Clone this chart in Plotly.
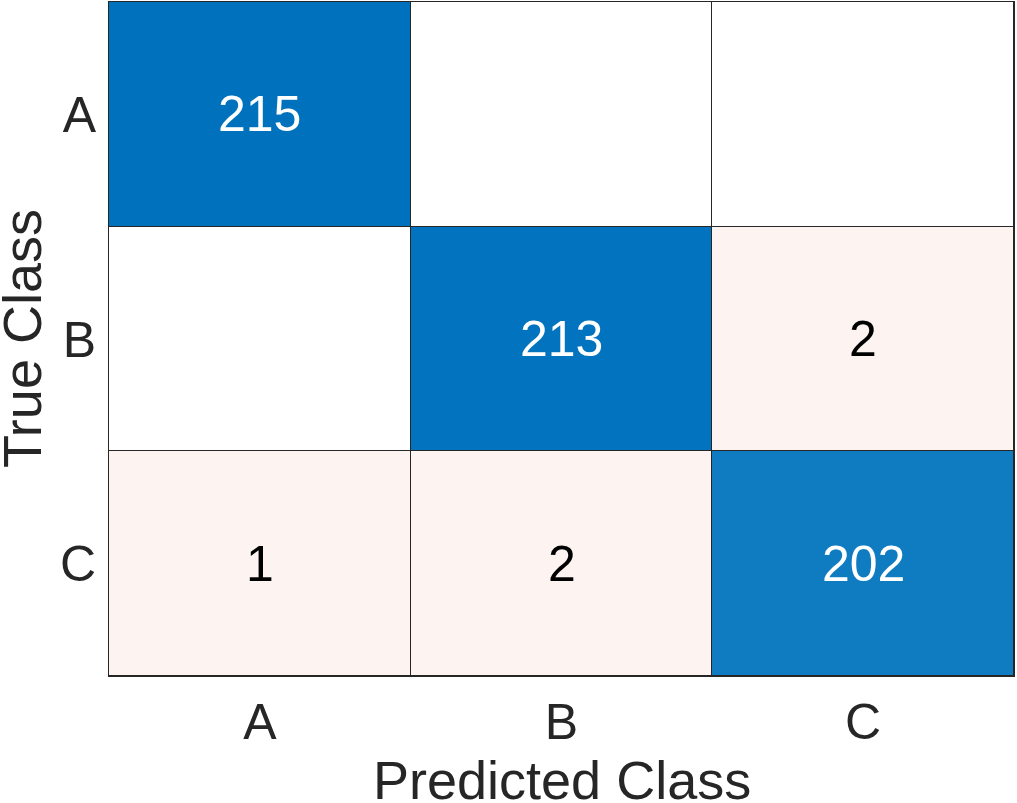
import plotly.graph_objects as go

# confusion matrix (rows = true class, cols = predicted class)
classes = ["A", "B", "C"]
counts = [
    [215, 0, 0],
    [0, 213, 2],
    [1, 2, 202],
]

max_diag = max(counts[i][i] for i in range(len(classes)))

# shade: diagonal -> blue intensity, off-diagonal nonzero -> pink, zero -> white
shade = []
for i, row in enumerate(counts):
    srow = []
    for j, v in enumerate(row):
        if v == 0:
            srow.append(0)
        elif i == j:
            srow.append(v / max_diag)
        else:
            srow.append(-1)
    shade.append(srow)

colorscale = [
    [0.0, "#fdf3f1"],
    [0.49, "#fdf3f1"],
    [0.5, "#ffffff"],
    [1.0, "#0072bd"],
]

fig = go.Figure(go.Heatmap(
    z=shade, x=classes, y=classes,
    zmin=-1, zmax=1,
    colorscale=colorscale, showscale=False,
    xgap=1, ygap=1, hoverinfo="skip",
))

font_family = "Liberation Sans, Arial, sans-serif"
for i, row in enumerate(counts):
    for j, v in enumerate(row):
        if v == 0:
            continue
        fig.add_annotation(
            x=classes[j], y=classes[i], text=str(v), showarrow=False,
            font=dict(family=font_family, size=50,
                      color="white" if i == j else "black"),
        )

# axis titles as paper annotations (automargin off, so standoff is ignored)
fig.add_annotation(
    text="Predicted Class", xref="paper", yref="paper", x=0.5, y=-0.154,
    xanchor="center", yanchor="middle", showarrow=False,
    font=dict(family=font_family, size=54, color="#262626"),
)
fig.add_annotation(
    text="True Class", xref="paper", yref="paper", x=-0.096, y=0.5,
    xanchor="center", yanchor="middle", showarrow=False, textangle=-90,
    font=dict(family=font_family, size=54, color="#262626"),
)

fig.update_layout(
    width=1017, height=803,
    margin=dict(l=109, r=3, t=2, b=127),
    paper_bgcolor="white", plot_bgcolor="#262626",
    font=dict(family=font_family, color="#262626"),
)
fig.update_xaxes(
    showgrid=False, zeroline=False, ticks="", automargin=False,
    showline=True, mirror=True, linecolor="#262626", linewidth=1,
    tickfont=dict(size=50), ticklabelstandoff=2,
)
fig.update_yaxes(
    autorange="reversed", showgrid=False, zeroline=False, ticks="",
    automargin=False,
    showline=True, mirror=True, linecolor="#262626", linewidth=1,
    tickfont=dict(size=50), ticklabelstandoff=2,
)

fig.write_html("out.html", config={"displayModeBar": False},
               post_script="document.body.style.margin='0';")
